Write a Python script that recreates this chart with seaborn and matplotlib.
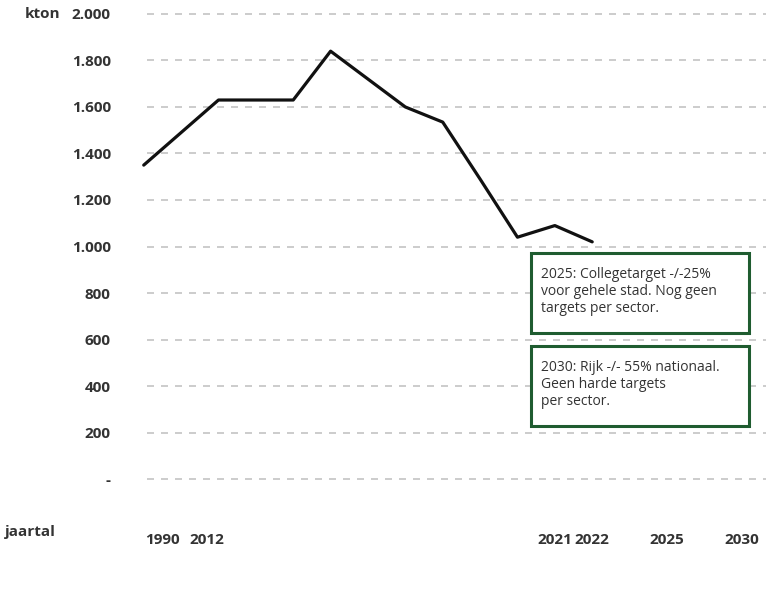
import matplotlib
matplotlib.use("Agg")
import matplotlib.pyplot as plt
import matplotlib.transforms as mtransforms
from matplotlib.patches import Rectangle
import seaborn as sns
import pandas as pd

# x-axis slots: 1990, gap, 2012..2022, gap, 2025, gap, 2030
SLOTS = ["1990", "", "2012", "2013", "2014", "2015", "2016", "2017", "2018",
         "2019", "2020", "2021", "2022", "", "2025", "", "2030"]
SHOWN_YEARS = ["1990", "2012", "2021", "2022", "2025", "2030"]

YEARS = ["1990", "2012", "2013", "2014", "2015", "2016", "2017", "2018",
         "2019", "2020", "2021", "2022"]
KTON = [1350, 1630, 1630, 1630, 1840, 1720, 1600, 1535, 1290, 1040, 1090, 1020]

Y_TICKS = [0, 200, 400, 600, 800, 1000, 1200, 1400, 1600, 1800, 2000]
Y_LABELS = ["-", "200", "400", "600", "800", "1.000", "1.200", "1.400",
            "1.600", "1.800", "2.000"]

NOTE_2025 = "2025: Collegetarget -/-25%\nvoor gehele stad. Nog geen\ntargets per sector."
NOTE_2030 = "2030: Rijk -/- 55% nationaal.\nGeen harde targets\nper sector."

TEXT = "#333333"
GREEN = "#1f5c30"

sns.set_theme(style="white")
plt.rcParams["font.family"] = ["Open Sans", "DejaVu Sans"]

df = pd.DataFrame({"pos": [SLOTS.index(y) for y in YEARS], "kton": KTON})

fig = plt.figure(figsize=(7.66, 5.92), dpi=100)
ax = fig.add_axes([140 / 766, 1 - 486 / 592, 626 / 766, 479 / 592])

for v in Y_TICKS:
    ax.axhline(v, xmin=0.011, color="#cccccc", lw=1.4, ls=(0, (3.6, 3.6)), zorder=1)

sns.lineplot(data=df, x="pos", y="kton", color="#111111", lw=2.3, ax=ax, zorder=3)

ax.set_xlim(-0.1, 16.65)
ax.set_ylim(-30, 2030)
ax.set_xlabel("")
ax.set_ylabel("")
sns.despine(ax=ax, left=True, bottom=True)

ax.set_yticks(Y_TICKS)
ax.set_yticklabels(Y_LABELS)
ax.set_xticks([SLOTS.index(y) for y in SHOWN_YEARS])
ax.set_xticklabels(SHOWN_YEARS)
ax.tick_params(axis="y", length=0, pad=21, labelsize=11, labelcolor=TEXT)
ax.tick_params(axis="x", length=0, pad=34, labelsize=11, labelcolor=TEXT)
for lab in ax.get_yticklabels() + ax.get_xticklabels():
    lab.set_fontweight("bold")

# the first two year labels sit a bit off their points in the original
shifts = {"1990": 19, "2012": -12}
for lab in ax.get_xticklabels():
    dx = shifts.get(lab.get_text(), 0)
    if dx:
        lab.set_transform(lab.get_transform() +
                          mtransforms.ScaledTranslation(dx / 100, 0, fig.dpi_scale_trans))

fig.text(25 / 766, 1 - 14 / 592, "kton", ha="left", va="center",
         fontsize=11, fontweight="bold", color=TEXT)
fig.text(5 / 766, 1 - 532 / 592, "jaartal", ha="left", va="center",
         fontsize=11, fontweight="bold", color=TEXT)

# annotation boxes (figure pixels)
for (x0, y0, x1, y1), note in [((531, 253, 749, 333), NOTE_2025),
                               ((531, 346, 749, 426), NOTE_2030)]:
    fig.patches.append(Rectangle((x0 / 766, 1 - y1 / 592), (x1 - x0) / 766,
                                 (y1 - y0) / 592, transform=fig.transFigure,
                                 facecolor="white", edgecolor=GREEN, lw=2.2,
                                 zorder=5))
    fig.text((x0 + 10) / 766, 1 - (y0 + 14) / 592, note, ha="left", va="top",
             fontsize=10, color=TEXT, linespacing=1.2, zorder=6)

fig.savefig("out.png", dpi=100, facecolor="white")
